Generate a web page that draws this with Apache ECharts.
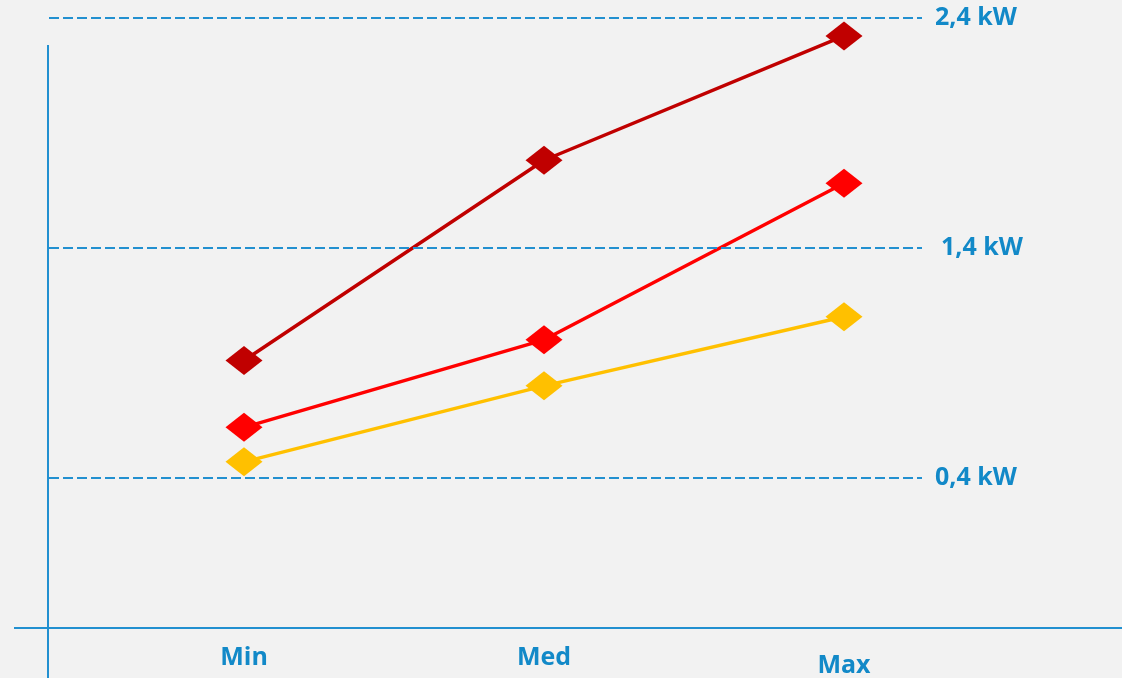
<!DOCTYPE html>
<html>
<head>
<meta charset="utf-8">
<script src="https://cdn.jsdelivr.net/npm/echarts@6/dist/echarts.min.js"></script>
<style>
  html, body { margin: 0; padding: 0; background: #f2f2f2; }
  #chart { width: 1122px; height: 678px; }
</style>
</head>
<body>
<div id="chart"></div>
<script>
// Power demand (kW) per operating level
const categories = ['Min', 'Med', 'Max'];
const powerHigh = [0.91, 1.78, 2.32];
const powerMid = [0.62, 1.00, 1.68];
const powerLow = [0.47, 0.80, 1.10];
// Reference levels drawn as dashed guides, in kW
const referenceLevels = [2.4, 1.4, 0.4];
const referenceLabelGap = [13, 19, 13];

const axisBlue = '#2290d0';
const textBlue = '#1289c8';
const labelFont = { fontFamily: 'Open Sans', fontWeight: 'bold', fontSize: 25, color: textBlue };

function formatKW(v) {
  return v.toFixed(1).replace('.', ',') + ' kW';
}

const guideLines = referenceLevels.map((v, i) => [
  { x: 49, yAxis: v, name: formatKW(v), label: { distance: referenceLabelGap[i] } },
  { x: 922, yAxis: v }
]);

function lineSeries(name, data, color, extra) {
  return Object.assign({
    name: name,
    type: 'line',
    data: data,
    symbol: 'diamond',
    symbolSize: [37, 29],
    clip: false,
    lineStyle: { color: color, width: 3.5 },
    itemStyle: { color: color },
    emphasis: { disabled: true }
  }, extra || {});
}

const chart = echarts.init(document.getElementById('chart'));
chart.setOption({
  backgroundColor: '#f2f2f2',
  animation: false,
  grid: { left: 94, right: 128, top: 17.5, bottom: 50 },
  xAxis: {
    type: 'category',
    data: categories,
    boundaryGap: true,
    axisLine: { show: false },
    axisTick: { show: false },
    axisLabel: Object.assign({}, labelFont, {
      margin: 19,
      formatter: (v) => v === 'Max' ? '{low|' + v + '}' : v,
      rich: { low: Object.assign({}, labelFont, { padding: [8, 0, 0, 0] }) }
    }),
    splitLine: { show: false }
  },
  yAxis: {
    type: 'value',
    min: -0.243,
    max: 2.4,
    show: false,
    splitLine: { show: false }
  },
  graphic: [
    { type: 'line', shape: { x1: 48, y1: 45, x2: 48, y2: 678 }, style: { stroke: axisBlue, lineWidth: 2 } },
    { type: 'line', shape: { x1: 14, y1: 628, x2: 1122, y2: 628 }, style: { stroke: axisBlue, lineWidth: 2 } }
  ],
  series: [
    lineSeries('Low', powerLow, '#ffc000', {
      markLine: {
        silent: true,
        symbol: ['none', 'none'],
        lineStyle: { color: axisBlue, type: [10, 4], width: 2 },
        label: Object.assign({}, labelFont, { position: 'end', formatter: '{b}' }),
        data: guideLines
      }
    }),
    lineSeries('Mid', powerMid, '#ff0000'),
    lineSeries('High', powerHigh, '#c00000')
  ]
});
</script>
</body>
</html>
